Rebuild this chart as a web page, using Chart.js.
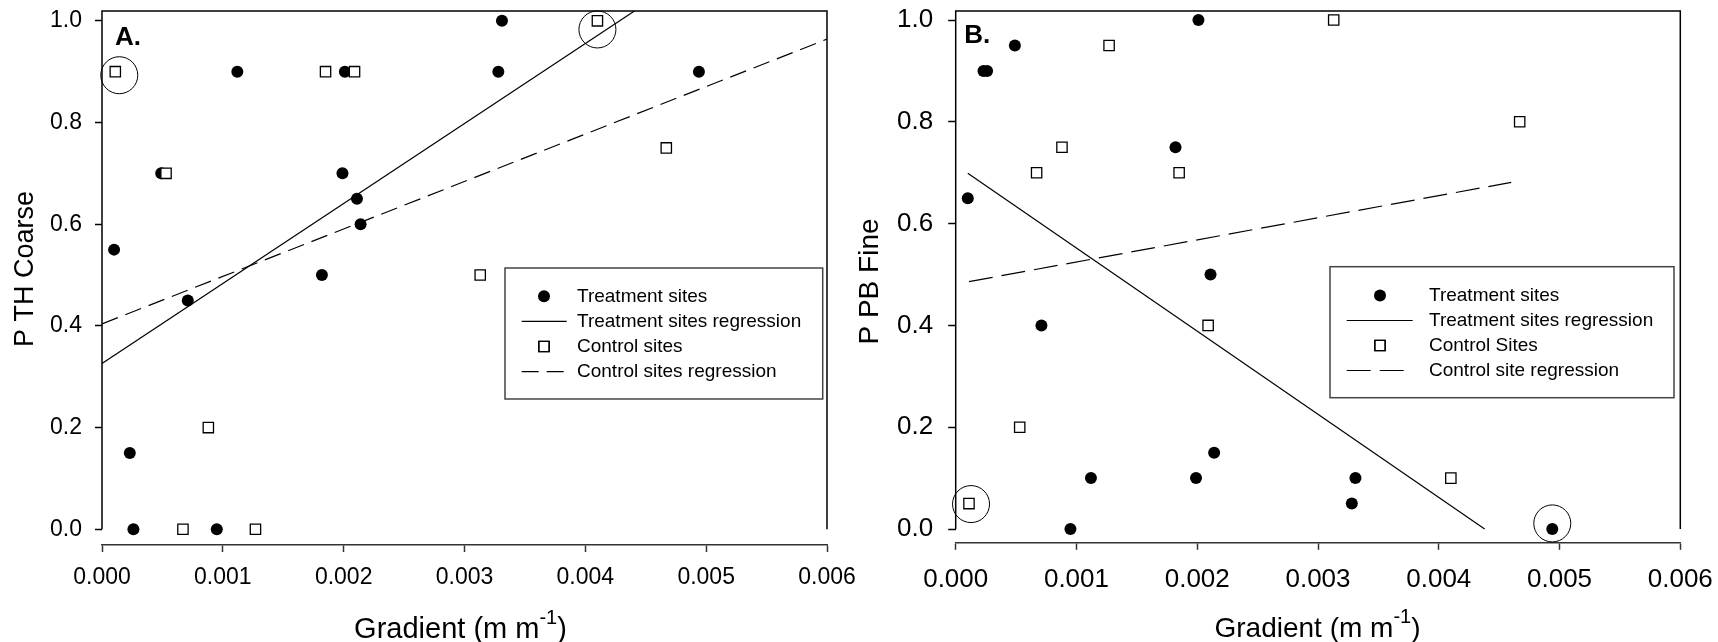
<!DOCTYPE html>
<html>
<head>
<meta charset="utf-8">
<title>Gradient vs P TH Coarse / P PB Fine</title>
<script src="https://cdn.jsdelivr.net/npm/chart.js@4.4.1/dist/chart.umd.min.js"></script>
<style>
    html, body { margin: 0; padding: 0; background: #fff; }
    #wrap { position: relative; width: 1718px; height: 642px; overflow: hidden; }
    canvas { position: absolute; top: 0; }
    #chartA { left: 0; }
    #chartB { left: 840px; }
</style>
</head>
<body>
<div id="wrap">
    <canvas id="chartA" width="900" height="642"></canvas>
    <canvas id="chartB" width="878" height="642"></canvas>
</div>
<script>
// --- veri ---
const xTicks = [0, 0.001, 0.002, 0.003, 0.004, 0.005, 0.006];
const yTicks = [0, 0.2, 0.4, 0.6, 0.8, 1.0];

// treatment sites (same gradients in both panels)
const gradientTreat = [0.00010, 0.00023, 0.00026, 0.00049, 0.00071, 0.00095, 0.00112, 0.00182,
                       0.00199, 0.00201, 0.00211, 0.00214, 0.00328, 0.00331, 0.00494];
const coarseTreat = [0.55, 0.15, 0.00, 0.70, 0.45, 0.00, 0.90, 0.50, 0.70, 0.90, 0.65, 0.60, 0.90, 1.00, 0.90];
const fineTreat   = [0.65, 0.90, 0.90, 0.95, 0.40, 0.00, 0.10, 0.75, 0.10, 1.00, 0.50, 0.15, 0.05, 0.10, 0.00];

// control sites
const gradientCtrl = [0.00011, 0.00053, 0.00067, 0.00088, 0.00127, 0.00185, 0.00209, 0.00313, 0.00410, 0.00467];
const coarseCtrl = [0.90, 0.70, 0.00, 0.20, 0.00, 0.90, 0.90, 0.50, 1.00, 0.75];
const fineCtrl   = [0.05, 0.20, 0.70, 0.75, 0.95, 0.70, 0.40, 1.00, 0.10, 0.80];

// regression line end points
const coarseTreatFitX = [0, 0.006];
const coarseTreatFitY = [0.326, 1.27];
const coarseCtrlFitX = [0, 0.006];
const coarseCtrlFitY = [0.404, 0.964];
const fineTreatFitX = [0.0001, 0.00438];
const fineTreatFitY = [0.699, 0.0];
const fineCtrlFitX = [0.00011, 0.0046];
const fineCtrlFitY = [0.486, 0.681];

// circled points
const coarseRingX = [0.000143, 0.0041];
const coarseRingY = [0.893, 0.983];
const fineRingX = [0.000127, 0.00494];
const fineRingY = [0.049, 0.011];

const legendA = ['Treatment sites', 'Treatment sites regression', 'Control sites', 'Control sites regression'];
const legendB = ['Treatment sites', 'Treatment sites regression', 'Control Sites', 'Control site regression'];

const FONT = "'Liberation Sans', Arial, Helvetica, sans-serif";

function toPoints(xs, ys) {
    return xs.map((x, i) => ({ x: x, y: ys[i] }));
}

// Çerçeve: üst kenar + sol/sağ kenarlar (0 değerinde biter)
const framePlugin = {
    id: 'frame',
    beforeDatasetsDraw(chart) {
        const { ctx, chartArea: a, scales } = chart;
        const y0 = scales.y.getPixelForValue(0);
        ctx.save();
        ctx.strokeStyle = '#000';
        ctx.lineWidth = 1.5;
        ctx.beginPath();
        ctx.moveTo(a.left, y0);
        ctx.lineTo(a.left, a.top);
        ctx.lineTo(a.right, a.top);
        ctx.lineTo(a.right, y0);
        ctx.stroke();
        ctx.restore();
    }
};

// Eksen başlıkları ve panel harfi
const textPlugin = {
    id: 'panelText',
    afterDraw(chart) {
        const t = chart.options.plugins.panelText;
        const ctx = chart.ctx;
        ctx.save();
        ctx.fillStyle = '#000';

        // panel letter
        ctx.font = 'bold ' + t.letterSize + 'px ' + FONT;
        ctx.textAlign = 'left';
        ctx.textBaseline = 'alphabetic';
        ctx.fillText(t.letter, t.letterX, t.letterY);

        // y title (rotated)
        ctx.save();
        ctx.translate(t.yTitleX, t.yTitleY);
        ctx.rotate(-Math.PI / 2);
        ctx.font = t.yTitleSize + 'px ' + FONT;
        ctx.textAlign = 'center';
        ctx.textBaseline = 'middle';
        ctx.fillText(t.yTitle, 0, 0);
        ctx.restore();

        // x title with superscript
        const main = t.xTitleSize + 'px ' + FONT;
        const sup = t.supSize + 'px ' + FONT;
        ctx.font = main;
        const w1 = ctx.measureText(t.xTitle).width;
        const w3 = ctx.measureText(t.xTail).width;
        ctx.font = sup;
        const w2 = ctx.measureText(t.xSup).width;
        let x = t.xTitleX - (w1 + w2 + w3) / 2;
        ctx.textAlign = 'left';
        ctx.textBaseline = 'alphabetic';
        ctx.font = main;
        ctx.fillText(t.xTitle, x, t.xTitleY);
        x += w1;
        ctx.font = sup;
        ctx.fillText(t.xSup, x, t.xTitleY - t.supRaise);
        x += w2;
        ctx.font = main;
        ctx.fillText(t.xTail, x, t.xTitleY);
        ctx.restore();
    }
};

// Kutulu lejant (veri setlerinin stilini kullanır)
const legendPlugin = {
    id: 'boxLegend',
    afterDraw(chart) {
        const L = chart.options.plugins.boxLegend;
        const ctx = chart.ctx;
        ctx.save();
        ctx.strokeStyle = '#444';
        ctx.lineWidth = 1.5;
        ctx.strokeRect(L.x, L.y, L.w, L.h);

        const items = chart.data.datasets.filter(ds => ds.inLegend);
        items.forEach((ds, i) => {
            const y = L.rowY + i * L.rowStep;
            if (ds.showLine) {
                ctx.strokeStyle = ds.borderColor;
                ctx.lineWidth = ds.borderWidth;
                const dash = ds.borderDash || [];
                ctx.setLineDash(dash);
                const x2 = dash.length ? L.lineX1 + dash[0] * 2 + dash[1] : L.lineX2;
                ctx.beginPath();
                ctx.moveTo(L.lineX1, y);
                ctx.lineTo(x2, y);
                ctx.stroke();
                ctx.setLineDash([]);
            } else {
                ctx.fillStyle = ds.backgroundColor;
                ctx.strokeStyle = ds.borderColor;
                ctx.lineWidth = ds.borderWidth;
                Chart.helpers.drawPoint(ctx, {
                    pointStyle: ds.pointStyle,
                    radius: ds.pointRadius,
                    borderWidth: ds.borderWidth,
                    rotation: 0
                }, L.symX, y);
                if (ds.borderWidth) ctx.stroke();
            }
            ctx.fillStyle = '#000';
            ctx.font = L.size + 'px ' + FONT;
            ctx.textAlign = 'left';
            ctx.textBaseline = 'middle';
            ctx.fillText(ds.label, L.textX, y);
        });
        ctx.restore();
    }
};

function buildPanel(canvasId, p) {
    const datasets = [
        {
            label: p.labels[0], inLegend: true,
            data: toPoints(gradientTreat, p.treat),
            pointStyle: 'circle', pointRadius: 6,
            backgroundColor: '#000', borderColor: '#000', borderWidth: 0,
            clip: false, order: 1
        },
        {
            label: p.labels[1], inLegend: true,
            data: toPoints(p.treatFitX, p.treatFitY),
            showLine: true, pointRadius: 0,
            borderColor: '#000', borderWidth: 1.2, order: 2
        },
        {
            label: p.labels[2], inLegend: true,
            data: toPoints(gradientCtrl, p.ctrl),
            pointStyle: 'rect', pointRadius: 7.3,
            backgroundColor: '#fff', borderColor: '#000', borderWidth: 1.3,
            clip: false, order: 0
        },
        {
            label: p.labels[3], inLegend: true,
            data: toPoints(p.ctrlFitX, p.ctrlFitY),
            showLine: true, pointRadius: 0, borderDash: p.dash,
            borderColor: '#000', borderWidth: 1.2, order: 2
        },
        {
            label: 'circled', inLegend: false,
            data: toPoints(p.ringX, p.ringY),
            pointStyle: 'circle', pointRadius: 18.5,
            backgroundColor: 'rgba(0,0,0,0)', borderColor: '#000', borderWidth: 1,
            clip: false, order: 3
        }
    ];

    return new Chart(document.getElementById(canvasId), {
        type: 'scatter',
        data: { datasets: datasets },
        options: {
            responsive: false,
            maintainAspectRatio: false,
            animation: false,
            events: [],
            layout: {
                autoPadding: false,
                padding: { left: 0, top: p.top, right: p.padRight, bottom: 0 }
            },
            scales: {
                x: {
                    type: 'linear', min: 0, max: 0.006,
                    afterBuildTicks: s => { s.ticks = xTicks.map(v => ({ value: v })); },
                    afterFit: s => { s.height = p.xAxisHeight; s.paddingLeft = 0; s.paddingRight = 0; },
                    ticks: {
                        callback: v => v.toFixed(3),
                        font: { family: FONT, size: p.xTickSize, lineHeight: 1.2 },
                        color: '#000', padding: p.xTickPad,
                        maxRotation: 0, autoSkip: false
                    },
                    grid: { drawOnChartArea: false, drawTicks: true, tickLength: p.tickLen, tickColor: '#333', tickWidth: 1.5 },
                    border: { display: true, color: '#333', width: 1.5 }
                },
                y: {
                    type: 'linear', min: p.yMin, max: p.yMax,
                    afterBuildTicks: s => { s.ticks = yTicks.map(v => ({ value: v })); },
                    afterFit: s => { s.width = p.yAxisWidth; s.paddingTop = 0; s.paddingBottom = 0; },
                    ticks: {
                        callback: v => v.toFixed(1),
                        font: { family: FONT, size: p.yTickSize, lineHeight: 1.2 },
                        color: '#000', padding: p.yTickPad
                    },
                    grid: { drawOnChartArea: false, drawTicks: true, tickLength: p.tickLen, tickColor: '#000', tickWidth: 1.5 },
                    border: { display: false }
                }
            },
            plugins: {
                legend: { display: false },
                tooltip: { enabled: false },
                panelText: p.text,
                boxLegend: p.legend
            }
        },
        plugins: [framePlugin, textPlugin, legendPlugin]
    });
}

// Panel A
buildPanel('chartA', {
    labels: legendA,
    treat: coarseTreat, ctrl: coarseCtrl,
    treatFitX: coarseTreatFitX, treatFitY: coarseTreatFitY,
    ctrlFitX: coarseCtrlFitX, ctrlFitY: coarseCtrlFitY,
    ringX: coarseRingX, ringY: coarseRingY,
    dash: [17, 8],
    yMin: -0.0309, yMax: 1.0193,
    top: 11, padRight: 73, yAxisWidth: 102, xAxisHeight: 97,
    tickLen: 7, xTickSize: 23, yTickSize: 23, xTickPad: 12, yTickPad: 13,
    text: {
        letter: 'A.', letterSize: 26, letterX: 115, letterY: 45,
        yTitle: 'P TH Coarse', yTitleSize: 27, yTitleX: 25.5, yTitleY: 269,
        xTitle: 'Gradient (m m', xSup: '-1', xTail: ')',
        xTitleSize: 29, supSize: 20, supRaise: 14, xTitleX: 460.5, xTitleY: 637.5
    },
    legend: {
        x: 505, y: 268, w: 317.7, h: 131,
        rowY: 296.3, rowStep: 25.1,
        symX: 544, lineX1: 521.7, lineX2: 566.7, textX: 577, size: 19
    }
});

// Panel B
buildPanel('chartB', {
    labels: legendB,
    treat: fineTreat, ctrl: fineCtrl,
    treatFitX: fineTreatFitX, treatFitY: fineTreatFitY,
    ctrlFitX: fineCtrlFitX, ctrlFitY: fineCtrlFitY,
    ringX: fineRingX, ringY: fineRingY,
    dash: [24, 9],
    yMin: -0.0261, yMax: 1.0177,
    top: 11, padRight: 37.7, yAxisWidth: 115.7, xAxisHeight: 99.7,
    tickLen: 7.5, xTickSize: 26, yTickSize: 26, xTickPad: 14, yTickPad: 15,
    text: {
        letter: 'B.', letterSize: 26, letterX: 124.3, letterY: 43.3,
        yTitle: 'P PB Fine', yTitleSize: 28, yTitleX: 29.8, yTitleY: 281.5,
        xTitle: 'Gradient (m m', xSup: '-1', xTail: ')',
        xTitleSize: 28, supSize: 20, supRaise: 14, xTitleX: 477.5, xTitleY: 636.7
    },
    legend: {
        x: 490, y: 266.7, w: 344, h: 131,
        rowY: 295.5, rowStep: 25,
        symX: 540, lineX1: 506.7, lineX2: 572.7, textX: 589, size: 19
    }
});
</script>
</body>
</html>
